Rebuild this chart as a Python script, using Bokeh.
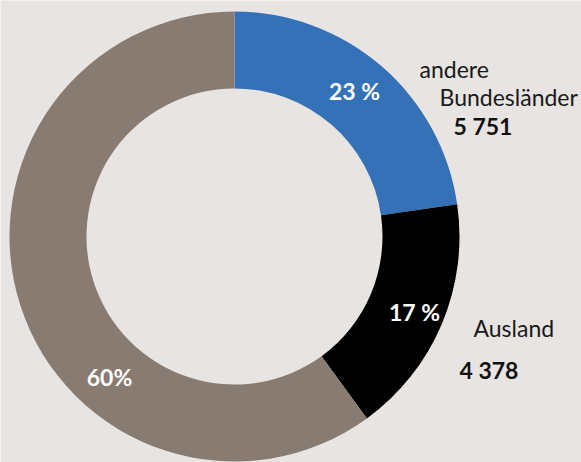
import numpy as np
from bokeh.plotting import figure
from bokeh.models import Range1d, ColumnDataSource
from bokeh.core.properties import value
from bokeh.embed import file_html
from bokeh.resources import INLINE

# ---- data ----
categories = ["andere Bundesländer", "Ausland", "Bayern"]
counts = [5751, 4378, 15200]
pct_labels = ["23 %", "17 %", "60%"]
colors = ["#3571b7", "#000000", "#887b71"]
count_labels = ["5 751", "4 378"]

BG = "#e7e4e1"
W, H = 581, 462

def Y(py):
    return H - py

p = figure(width=W, height=H, output_backend="svg", toolbar_location=None,
           x_range=Range1d(0, W), y_range=Range1d(0, H),
           min_border=0, background_fill_color=BG, border_fill_color=BG,
           outline_line_color=None)
p.axis.visible = False
p.grid.visible = False

cx, cy = 234, Y(236)
r_in, r_out = 148, 225

frac = np.array(counts, dtype=float) / np.sum(counts)
cum = np.concatenate([[0], np.cumsum(frac)])
start = np.pi / 2 - 2 * np.pi * cum[1:]
end = np.pi / 2 - 2 * np.pi * cum[:-1]

src = ColumnDataSource(dict(start=start, end=end, color=colors))
p.annular_wedge(x=cx, y=cy, inner_radius=r_in, outer_radius=r_out,
                start_angle="start", end_angle="end", fill_color="color",
                line_color=None, source=src)

FONT = value("Lato")
FS = "23px"

# percentage labels (positions in reference pixels: center x, vertical middle y)
pct_pos = [(354, 90), (414, 311), (109, 376)]
p.text(x=[q[0] for q in pct_pos], y=[Y(q[1]) for q in pct_pos], text=pct_labels,
       text_font=FONT, text_font_size=FS, text_font_style="bold",
       text_color="white", text_align="center", text_baseline="middle")

# category labels
name_lines = ["andere", "Bundesländer", "Ausland"]
name_pos = [(419, 68), (439, 96), (473, 327)]
p.text(x=[q[0] for q in name_pos], y=[Y(q[1]) for q in name_pos], text=name_lines,
       text_font=FONT, text_font_size=FS, text_color="#1a1a1a",
       text_align="left", text_baseline="middle")

num_pos = [(453, 125), (459, 369)]
p.text(x=[q[0] for q in num_pos], y=[Y(q[1]) for q in num_pos], text=count_labels,
       text_font=FONT, text_font_size=FS, text_font_style="bold", text_color="#111111",
       text_align="left", text_baseline="middle")

html = file_html(p, INLINE)
html = html.replace("<body>", '<body style="margin:0;background:%s">' % BG, 1)
open("out.html", "w").write(html)
